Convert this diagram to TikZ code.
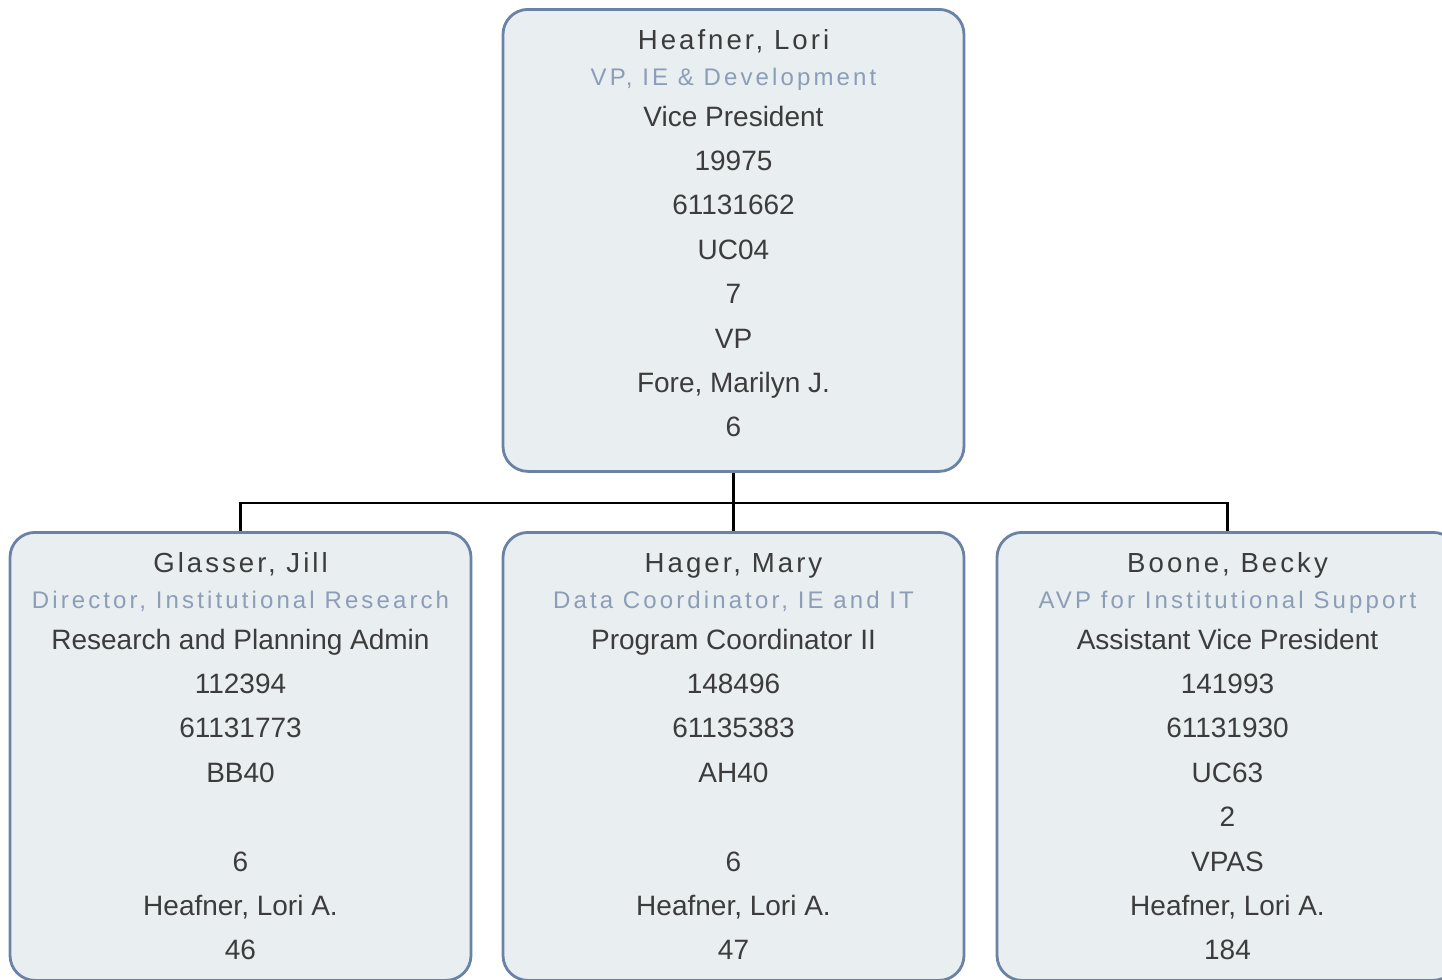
\documentclass[tikz,border=0pt]{standalone}
\usepackage{fontspec}
\setmainfont{Liberation Sans}
\newfontfamily\namefont[LetterSpace=11]{Liberation Sans}
\newfontfamily\titlefont[LetterSpace=13]{Liberation Sans}
\definecolor{cardfill}{HTML}{E9EEF1}
\definecolor{cardline}{HTML}{6A82A5}
\definecolor{titlecol}{HTML}{8C9DB8}
\definecolor{bodycol}{HTML}{3C3C3C}
% name, title and data rows of one card
\newcommand{\cardtext}[4]{%
  \node[namerow] at ([yshift=-20.5pt]#1.north) {#2};
  \node[titlerow] at ([yshift=-38.5pt]#1.north) {#3};
  \foreach \row [count=\i from 0] in {#4}
    \node[bodyrow] at ([yshift=-59pt-22.2pt*\i]#1.north) {\row};}
\begin{document}
\begin{tikzpicture}[x=0.5pt,y=-0.5pt,
    card/.style={draw=cardline,fill=cardfill,line width=1.4pt,rounded corners=12.5pt,
      minimum width=230.5pt,inner sep=0pt,anchor=north},
    namerow/.style={anchor=base,text=bodycol,font={\namefont\fontsize{13.8pt}{15pt}\selectfont}},
    titlerow/.style={anchor=base,text=titlecol,font={\titlefont\fontsize{12pt}{14pt}\selectfont}},
    bodyrow/.style={anchor=base,text=bodycol,font={\fontsize{14pt}{16pt}\selectfont}},
    link/.style={line width=1.2pt}]
  \useasboundingbox (0,0) rectangle (1442,980);
  % cards
  \node[card,minimum height=231pt] (lori) at (733.5,8) {};
  \node[card,minimum height=224pt] (glasser) at (240.5,531) {};
  \node[card,minimum height=224pt] (hager) at (733.5,531) {};
  \node[card,minimum height=224pt] (boone) at (1227.5,531) {};
  % connectors
  \draw[link] (lori.south) -- ++(0,30) coordinate (bus);
  \draw[link] (glasser.north) |- (bus) -| (boone.north);
  \draw[link] (bus) -- (hager.north);
  % texts
  \cardtext{lori}{Heafner, Lori}{VP, IE \& Development}
    {Vice President,19975,61131662,UC04,7,VP,{Fore, Marilyn J.},6}
  \cardtext{glasser}{Glasser, Jill}{Director, Institutional Research}
    {Research and Planning Admin,112394,61131773,BB40,{},6,{Heafner, Lori A.},46}
  \cardtext{hager}{Hager, Mary}{Data Coordinator, IE and IT}
    {Program Coordinator II,148496,61135383,AH40,{},6,{Heafner, Lori A.},47}
  \cardtext{boone}{Boone, Becky}{AVP for Institutional Support}
    {Assistant Vice President,141993,61131930,UC63,2,VPAS,{Heafner, Lori A.},184}
\end{tikzpicture}
\end{document}
